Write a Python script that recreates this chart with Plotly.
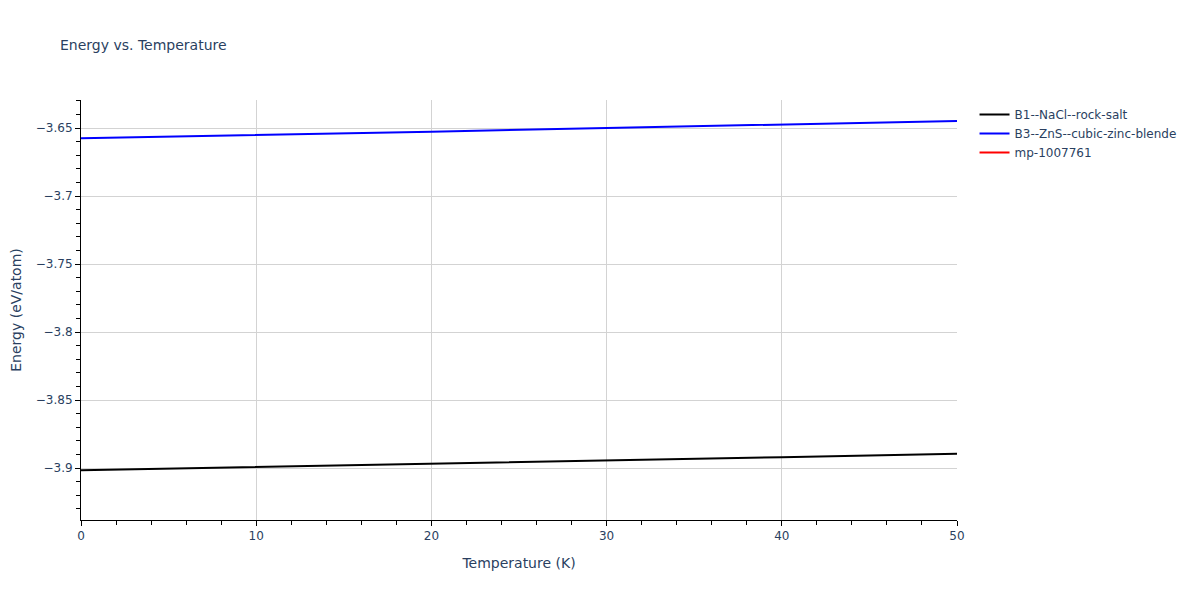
import plotly.graph_objects as go

temperature = [0, 10, 20, 30, 40, 50]
energy_b1 = [-3.9016, -3.8993, -3.8970, -3.8945, -3.8920, -3.8895]
energy_b3 = [-3.6575, -3.6552, -3.6527, -3.6500, -3.6474, -3.6448]
energy_mp = [None, None, None, None, None, None]

fig = go.Figure()
fig.add_trace(go.Scatter(x=temperature, y=energy_b1, mode='lines',
                         name='B1--NaCl--rock-salt', line=dict(color='black', width=2)))
fig.add_trace(go.Scatter(x=temperature, y=energy_b3, mode='lines',
                         name='B3--ZnS--cubic-zinc-blende', line=dict(color='blue', width=2)))
fig.add_trace(go.Scatter(x=temperature, y=energy_mp, mode='lines',
                         name='mp-1007761', line=dict(color='red', width=2)))

axis_style = dict(showline=True, linecolor='black', linewidth=1,
                  showgrid=True, gridcolor='lightgray', zeroline=False,
                  ticks='outside', ticklen=5, tickcolor='black', automargin=False,
                  minor=dict(ticks='outside', ticklen=4, tickcolor='black', showgrid=False))

# the page adds an 8px body margin, so margins are trimmed to land the plot where the reference has it
fig.update_layout(
    title=dict(text='Energy vs. Temperature', x=0.0433, xanchor='left',
               y=0.938, yanchor='middle', font=dict(size=14)),
    font=dict(family='DejaVu Sans', color='#2a3f5f'),
    width=1200, height=600,
    margin=dict(l=73, r=251, t=92, b=88),
    plot_bgcolor='white', paper_bgcolor='white',
    xaxis=dict(title='Temperature (K)', range=[0, 50], dtick=10, **axis_style),
    yaxis=dict(title='Energy (eV/atom)', range=[-3.9382, -3.6294], dtick=0.05, **axis_style),
    legend=dict(x=1.02, y=1, yanchor='top'),
    showlegend=True,
)
fig.update_xaxes(minor_dtick=2)
fig.update_yaxes(minor_dtick=0.01)

fig.write_html("out.html")
